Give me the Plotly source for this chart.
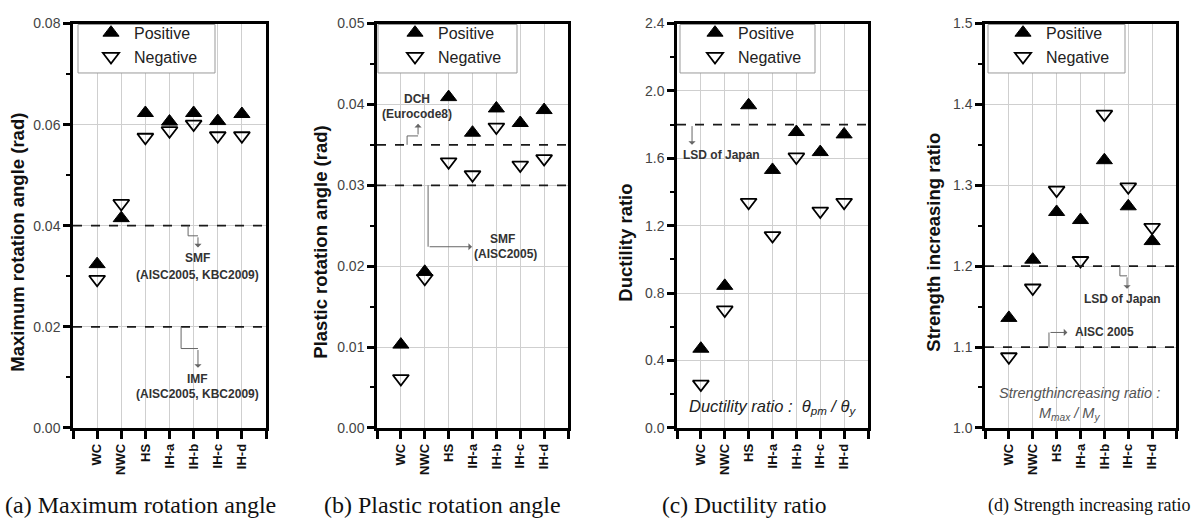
import plotly.graph_objects as go

# Specimen labels
specimens = ["WC", "NWC", "HS", "IH-a", "IH-b", "IH-c", "IH-d"]

# (a) Maximum rotation angle (rad)
max_rot_pos = [0.0324, 0.0415, 0.0623, 0.0606, 0.0623, 0.0607, 0.0621]
max_rot_neg = [0.0294, 0.0444, 0.0575, 0.0588, 0.0601, 0.0578, 0.0578]

# (b) Plastic rotation angle (rad)
pl_rot_pos = [0.0103, 0.0193, 0.0409, 0.0365, 0.0395, 0.0377, 0.0393]
pl_rot_neg = [0.0061, 0.0185, 0.0329, 0.0313, 0.0372, 0.0325, 0.0333]

# (c) Ductility ratio
duct_pos = [0.47, 0.843, 1.915, 1.531, 1.756, 1.637, 1.742]
duct_neg = [0.26, 0.70, 1.339, 1.141, 1.608, 1.287, 1.339]

# (d) Strength increasing ratio
str_pos = [1.136, 1.208, 1.267, 1.257, 1.331, 1.274, 1.231]
str_neg = [1.088, 1.173, 1.294, 1.207, 1.388, 1.298, 1.248]

# Code limits drawn as dashed lines
limits_a = [0.04, 0.02]
limits_b = [0.035, 0.030]
limits_c = [1.8]
limits_d = [1.2, 1.1]

y_titles = ["Maximum rotation angle (rad)", "Plastic rotation angle (rad)",
            "Ductility ratio", "Strength increasing ratio"]
captions = ["(a) Maximum rotation angle", "(b) Plastic rotation angle",
            "(c) Ductility ratio", "(d) Strength increasing ratio"]

W, H = 1195, 529
# panel pixel boxes: left, right
panels_px = [(73, 266), (377, 568), (677, 868), (985, 1176)]
top_px, bot_px = 16, 433
y_ranges = [(0, 0.08, 0.02), (0, 0.05, 0.01), (0, 2.4, 0.4), (1.0, 1.5, 0.1)]
y_fmt = [".2f", ".2f", ".1f", ".1f"]
title_x_px = [18, 321, 626, 934]
caption_x_px = [140, 442, 744, 1089]
caption_size = [24, 24, 23.5, 18]
legend_box_px = [(5, 142), (1, 140), (3, 138), (3, 140)]

pos_series = [max_rot_pos, pl_rot_pos, duct_pos, str_pos]
neg_series = [max_rot_neg, pl_rot_neg, duct_neg, str_neg]
limits = [limits_a, limits_b, limits_c, limits_d]

fig = go.Figure()
xs = list(range(1, len(specimens) + 1))
font_sans = "Liberation Sans, Arial, sans-serif"

for i in range(4):
    n = "" if i == 0 else str(i + 1)
    xa, ya = "x" + n, "y" + n
    leg = "legend" + n
    fig.add_trace(go.Scatter(
        x=xs, y=pos_series[i], mode="markers", name="Positive",
        xaxis=xa, yaxis=ya, legend=leg,
        marker=dict(symbol="triangle-up", size=14, color="black",
                    line=dict(color="black", width=1))))
    fig.add_trace(go.Scatter(
        x=xs, y=neg_series[i], mode="markers", name="Negative",
        xaxis=xa, yaxis=ya, legend=leg,
        marker=dict(symbol="triangle-down-open", size=14, color="black",
                    line=dict(color="black", width=1.8))))

    l_px, r_px = panels_px[i]
    y0, y1, dt = y_ranges[i]
    ticks = [round(y0 + k * dt, 4) for k in range(int(round((y1 - y0) / dt)) + 1)]
    fig.update_layout(**{
        "xaxis" + n: dict(
            domain=[l_px / W, r_px / W], anchor=ya, range=[0, 8],
            tickmode="array", tickvals=list(range(0, 9)),
            ticktext=[""] + ["<b>%s</b>" % s for s in specimens] + [""],
            tickangle=-90, ticks="outside", ticklen=8, tickwidth=2.5,
            tickcolor="black", showline=True, linecolor="black", linewidth=2.5,
            mirror=True, showgrid=True, gridcolor="#cfcfcf", gridwidth=1,
            zeroline=False, fixedrange=True,
            tickfont=dict(family=font_sans, size=13, color="#111")),
        "yaxis" + n: dict(
            domain=[1 - bot_px / H, 1 - top_px / H], anchor=xa,
            range=[y0, y1], tickmode="array", tickvals=ticks,
            ticktext=[format(t, y_fmt[i]) for t in ticks],
            ticks="outside", ticklen=7, tickwidth=2.5, tickcolor="black",
            minor=dict(ticks="outside", ticklen=4, tickwidth=2,
                       tickcolor="black", dtick=dt / 2, tick0=y0, showgrid=False),
            showline=True, linecolor="black", linewidth=2.5, mirror=True,
            showgrid=True, gridcolor="#cfcfcf", gridwidth=1, zeroline=False,
            fixedrange=True,
            tickfont=dict(family=font_sans, size=14, color="#444")),
        leg: dict(
            x=(l_px + 15) / W, y=1 - 8 / H, xanchor="left", yanchor="top",
            bgcolor="rgba(0,0,0,0)", borderwidth=0,
            font=dict(family=font_sans, size=16, color="#222"),
            itemwidth=36, tracegroupgap=0),
    })

    # legend frame: white box above the grid, below the markers
    bx0, bx1 = legend_box_px[i]
    px_per_x = (r_px - l_px) / 8.0
    y_of_px = lambda p: y0 + (bot_px - p) / (bot_px - top_px) * (y1 - y0)
    fig.add_shape(type="rect", xref=xa, yref=ya,
                  x0=bx0 / px_per_x, x1=bx1 / px_per_x,
                  y0=y_of_px(67), y1=y_of_px(17),
                  fillcolor="white", line=dict(color="#999", width=1),
                  layer="between")

    for v in limits[i]:
        fig.add_shape(type="line", xref=xa, yref=ya, x0=0, x1=8, y0=v, y1=v,
                      line=dict(color="#1a1a1a", width=1.8, dash="dash"))

    fig.add_annotation(
        xref="paper", yref="paper", x=title_x_px[i] / W,
        y=1 - 242 / H, text="<b>%s</b>" % y_titles[i],
        textangle=-90, showarrow=False, xanchor="center", yanchor="middle",
        font=dict(family=font_sans, size=18.5, color="#111"))
    fig.add_annotation(
        xref="paper", yref="paper", x=caption_x_px[i] / W, y=1 - 513 / H,
        text=captions[i], showarrow=False, xanchor="center", yanchor="middle",
        font=dict(family="Liberation Serif, Times New Roman, serif",
                  size=caption_size[i], color="#111"))

note_font = dict(family=font_sans, size=12, color="#333")
arrow_col = "#666"


def leader(xa, ya, pts):
    """Bent leader line from a limit line; last segment carries the arrowhead."""
    for (xa0, ya0), (xb0, yb0) in zip(pts[:-2], pts[1:-1]):
        fig.add_shape(type="line", xref=xa, yref=ya, x0=xa0, y0=ya0, x1=xb0, y1=yb0,
                      line=dict(color=arrow_col, width=1))
    (xp, yp), (xt, yt) = pts[-2], pts[-1]
    fig.add_annotation(xref=xa, yref=ya, x=xt, y=yt, ax=xp, ay=yp,
                       axref=xa, ayref=ya, text="", showarrow=True,
                       arrowhead=1, arrowsize=1.2, arrowwidth=1,
                       arrowcolor=arrow_col)


def note(xa, ya, x, y, text, size=12, anchor="center", italic=False, color="#333"):
    f = dict(note_font)
    f["size"] = size
    f["color"] = color
    t = "<i>%s</i>" % text if italic else "<b>%s</b>" % text
    fig.add_annotation(xref=xa, yref=ya, x=x, y=y, text=t, showarrow=False,
                       xanchor=anchor, yanchor="middle", font=f)


# (a)
leader("x", "y", [(4.77, 0.04), (4.77, 0.038), (5.18, 0.038), (5.18, 0.0357)])
note("x", "y", 5.18, 0.0336, "SMF")
note("x", "y", 5.18, 0.0303, "(AISC2005, KBC2009)")
leader("x", "y", [(4.48, 0.02), (4.48, 0.0157), (5.18, 0.0157), (5.18, 0.0119)])
note("x", "y", 5.14, 0.0096, "IMF")
note("x", "y", 5.14, 0.0067, "(AISC2005, KBC2009)")

# (b)
leader("x2", "y2", [(1.26, 0.035), (1.26, 0.0361), (1.72, 0.0361), (1.72, 0.0376)])
note("x2", "y2", 1.68, 0.0407, "DCH")
note("x2", "y2", 1.68, 0.0388, "(Eurocode8)")
leader("x2", "y2", [(2.14, 0.030), (2.14, 0.0224), (3.98, 0.0224)])
note("x2", "y2", 5.24, 0.0233, "SMF")
note("x2", "y2", 5.40, 0.0215, "(AISC2005)")

# (c)
leader("x3", "y3", [(0.63, 1.8), (0.63, 1.68)])
note("x3", "y3", 1.88, 1.617, "LSD of Japan")
note("x3", "y3", 4.02, 0.127,
     "Ductility ratio :  θ<sub>pm</sub> / θ<sub>y</sub>", size=16.5, italic=True,
     color="#222")

# (d)
leader("x4", "y4", [(5.65, 1.2), (5.65, 1.188), (5.95, 1.188), (5.95, 1.172)])
note("x4", "y4", 5.74, 1.159, "LSD of Japan")
leader("x4", "y4", [(2.68, 1.1), (2.68, 1.118), (3.45, 1.118)])
note("x4", "y4", 3.68, 1.118, "AISC 2005", anchor="left")
note("x4", "y4", 3.94, 1.043, "Strengthincreasing ratio :", size=14.5,
     italic=True, color="#555")
note("x4", "y4", 3.56, 1.017, "M<sub>max</sub> / M<sub>y</sub>", size=14.5,
     italic=True, color="#555")

fig.update_layout(
    width=W, height=H, margin=dict(l=0, r=0, t=0, b=0),
    paper_bgcolor="white", plot_bgcolor="white", showlegend=True,
    font=dict(family=font_sans),
)

fig.write_html("out.html")
